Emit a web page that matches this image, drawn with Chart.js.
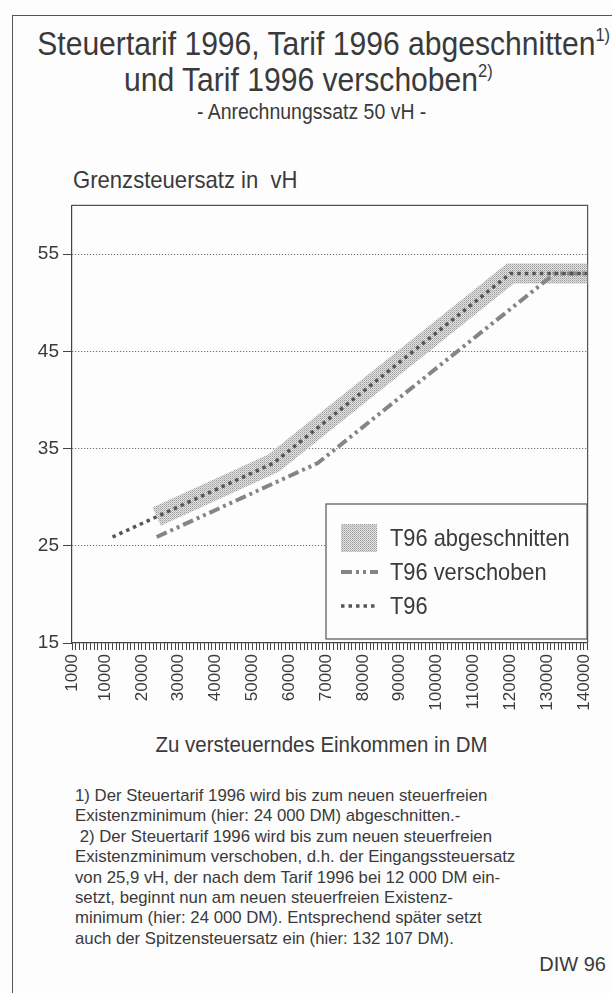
<!DOCTYPE html>
<html>
<head>
<meta charset="utf-8">
<script src="https://cdn.jsdelivr.net/npm/chart.js@4.4.0/dist/chart.umd.min.js"></script>
<style>
  body { margin: 0; background: #fff; font-family: "Liberation Sans", Arial, sans-serif; color: #3a3a3a; }
  #page { position: relative; width: 612px; height: 993px; overflow: hidden; background: #fdfdfd; }
  #frame { position: absolute; left: 12px; top: 15px; width: 610px; height: 990px;
           border-left: 1.5px solid #555; border-top: 1.5px solid #555; }
  .row { position: absolute; left: 0; width: 616px; text-align: center; white-space: nowrap; }
  .row span.sq { display: inline-block; transform: scaleX(0.885); }
  sup { font-size: 0.55em; vertical-align: 0.75em; }
  .txt { position: absolute; white-space: nowrap; transform-origin: 0 0; }
  #chartBox { position: absolute; left: 0; top: 190px; width: 612px; height: 540px; }
  #notes { position: absolute; left: 75px; top: 786px; font-size: 17px; line-height: 20.4px;
           transform: scaleX(0.985); transform-origin: 0 0; white-space: nowrap; }
</style>
</head>
<body>
<div id="page">
  <div id="frame"></div>
  <div class="row" style="top:24px;font-size:34px"><span class="sq">Steuertarif 1996, Tarif 1996 abgeschnitten<sup>1)</sup></span></div>
  <div class="row" style="top:60px;font-size:34px"><span class="sq">und Tarif 1996 verschoben<sup>2)</sup></span></div>
  <div class="row" style="top:99px;font-size:22px;width:624px"><span class="sq">- Anrechnungssatz 50 vH -</span></div>
  <div class="txt" style="left:73px;top:166px;font-size:24px;transform:scaleX(0.92)">Grenzsteuersatz in &nbsp;vH</div>
  <div id="chartBox"><canvas id="c"></canvas></div>
  <div class="row" style="top:732px;font-size:22px;width:644px"><span class="sq" style="transform:scaleX(0.93)">Zu versteuerndes Einkommen in DM</span></div>
  <div id="notes">
    1) Der Steuertarif 1996 wird bis zum neuen steuerfreien<br>
    Existenzminimum (hier: 24 000 DM) abgeschnitten.-<br>
    &nbsp;2) Der Steuertarif 1996 wird bis zum neuen steuerfreien<br>
    Existenzminimum verschoben, d.h. der Eingangssteuersatz<br>
    von 25,9 vH, der nach dem Tarif 1996 bei 12 000 DM ein-<br>
    setzt, beginnt nun am neuen steuerfreien Existenz-<br>
    minimum (hier: 24 000 DM). Entsprechend später setzt<br>
    auch der Spitzensteuersatz ein (hier: 132 107 DM).
  </div>
  <div class="txt" style="right:6px;top:953px;font-size:20px">DIW 96</div>
</div>

<script>
// einkommen in DM / grenzsteuersatz in vH
const incomeT96 = [12000, 55727, 120042, 141000];
const rateT96 = [25.9, 33.5, 53, 53];
const incomeCut = [24000, 55727, 120042, 141000];
const rateCut = [28.0, 33.5, 53, 53];
const incomeShift = [24000, 67727, 132107, 141000];
const rateShift = [25.9, 33.5, 53, 53];

const xLabelValues = [1000, 10000, 20000, 30000, 40000, 50000, 60000, 70000,
  80000, 90000, 100000, 110000, 120000, 130000, 140000];
const yTickValues = [15, 25, 35, 45, 55];
const seriesNames = ["T96 abgeschnitten", "T96 verschoben", "T96"];

function pts(xs, ys) {
  return xs.map((x, i) => ({ x: x, y: ys[i] }));
}

// stipple pattern for the band
const pc = document.createElement("canvas");
pc.width = 2; pc.height = 2;
const pctx = pc.getContext("2d");
pctx.fillStyle = "#e2e2e2"; pctx.fillRect(0, 0, 2, 2);
pctx.fillStyle = "#9a9a9a"; pctx.fillRect(0, 0, 1, 1);
pctx.fillStyle = "#bdbdbd"; pctx.fillRect(1, 1, 1, 1);
const stipple = pctx.createPattern(pc, "repeat");

// minor tick every 1000 DM on x
const xMinor = [];
for (let v = 1000; v <= 141000; v += 1000) xMinor.push(v);

const boxPlugin = {
  id: "box",
  beforeDatasetsDraw(chart) {
    const a = chart.chartArea, ctx = chart.ctx;
    ctx.save();
    ctx.strokeStyle = "#555";
    ctx.lineWidth = 1.2;
    ctx.beginPath();
    ctx.moveTo(a.left, a.top); ctx.lineTo(a.right, a.top); ctx.lineTo(a.right, a.bottom);
    ctx.stroke();
    ctx.restore();
  }
};

const legendPlugin = {
  id: "boxLegend",
  afterDatasetsDraw(chart) {
    const ctx = chart.ctx;
    const x0 = 326, y0 = 504 - 190, w = 261, h = 135;
    ctx.save();
    ctx.fillStyle = "#fdfdfd";
    ctx.fillRect(x0, y0, w, h);
    ctx.strokeStyle = "#555";
    ctx.lineWidth = 1.2;
    ctx.strokeRect(x0, y0, w, h);
    const rows = [y0 + 34, y0 + 68, y0 + 102];
    chart.data.datasets.forEach((ds, i) => {
      const y = rows[i];
      if (i === 0) {
        ctx.fillStyle = ds.borderColor;
        ctx.fillRect(x0 + 15, y - 14, 36, 28);
      } else {
        ctx.strokeStyle = ds.borderColor;
        ctx.lineWidth = ds.borderWidth;
        ctx.setLineDash(ds.borderDash);
        ctx.beginPath();
        ctx.moveTo(x0 + 15, y); ctx.lineTo(x0 + 52, y);
        ctx.stroke();
        ctx.setLineDash([]);
      }
      ctx.save();
      ctx.translate(x0 + 64, y);
      ctx.scale(0.91, 1);
      ctx.fillStyle = "#3a3a3a";
      ctx.font = "24px 'Liberation Sans', Arial, sans-serif";
      ctx.textBaseline = "middle";
      ctx.fillText(ds.label, 0, 1);
      ctx.restore();
    });
    ctx.restore();
  }
};

new Chart(document.getElementById("c"), {
  type: "line",
  data: {
    datasets: [
      {
        label: seriesNames[0],
        data: pts(incomeCut, rateCut),
        borderColor: stipple,
        borderWidth: 20,
        borderCapStyle: "butt",
        pointRadius: 0,
        fill: false,
        order: 3
      },
      {
        label: seriesNames[1],
        data: pts(incomeShift, rateShift),
        borderColor: "#858585",
        borderWidth: 4,
        borderDash: [11, 4, 3, 4, 3, 4],
        pointRadius: 0,
        fill: false,
        order: 2
      },
      {
        label: seriesNames[2],
        data: pts(incomeT96, rateT96),
        borderColor: "#555",
        borderWidth: 3.5,
        borderDash: [3.5, 4],
        pointRadius: 0,
        fill: false,
        order: 1
      }
    ]
  },
  options: {
    responsive: true,
    maintainAspectRatio: false,
    animation: false,
    layout: { padding: { left: 0, right: 24, top: 10, bottom: 0 } },
    plugins: { legend: { display: false }, tooltip: { enabled: false } },
    scales: {
      x: {
        type: "linear",
        min: 1000,
        max: 141000,
        afterBuildTicks: (axis) => { axis.ticks = xMinor.map(v => ({ value: v })); },
        afterFit: (axis) => { axis.height = 87; },
        grid: { drawOnChartArea: false, tickLength: 7, tickColor: "#444", tickWidth: 1 },
        border: { color: "#444", width: 1.2 },
        ticks: {
          autoSkip: false,
          minRotation: 90,
          maxRotation: 90,
          padding: 4,
          color: "#3a3a3a",
          font: { family: "'Liberation Sans', Arial, sans-serif", size: 17 },
          callback: (v) => xLabelValues.includes(v) ? String(v) : ""
        }
      },
      y: {
        min: 15,
        max: 60,
        afterBuildTicks: (axis) => { axis.ticks = yTickValues.map(v => ({ value: v })); },
        afterFit: (axis) => { axis.width = 72; },
        grid: {
          color: (c) => (c.tick && c.tick.value > 15) ? "#555" : "rgba(0,0,0,0)",
          lineWidth: 1,
          tickLength: 9,
          tickColor: "#444"
        },
        border: { color: "#444", width: 1.2, dash: [1, 2] },
        ticks: {
          padding: 4,
          color: "#3a3a3a",
          font: { family: "'Liberation Sans', Arial, sans-serif", size: 19 }
        }
      }
    }
  },
  plugins: [boxPlugin, legendPlugin]
});
</script>
</body>
</html>
